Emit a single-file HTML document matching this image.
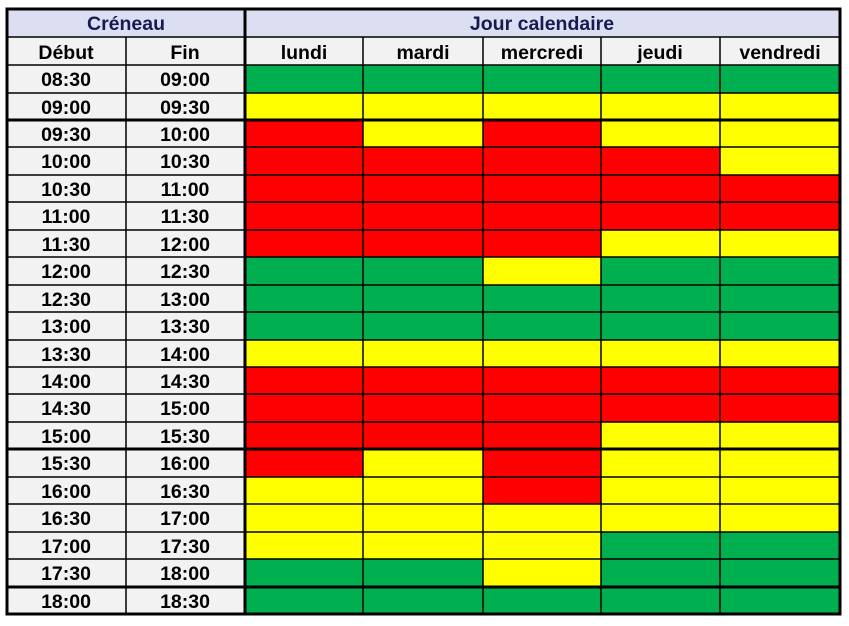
<!DOCTYPE html><html><head><meta charset="utf-8"><style>
body{margin:0;background:#fff}
svg text{font-family:"Liberation Sans",Arial,sans-serif;font-weight:bold;font-size:19.5px;text-anchor:middle;fill:#000}
</style></head><body>
<svg width="849" height="621" xmlns="http://www.w3.org/2000/svg">
<rect x="7" y="9" width="238" height="28" fill="#dcdff2"/>
<rect x="245" y="9" width="595" height="28" fill="#dcdff2"/>
<rect x="7" y="37" width="238" height="577" fill="#f2f2f2"/>
<rect x="245" y="37" width="595" height="28" fill="#f2f2f2"/>
<g id="cells"></g>
<g>
<text x="126" y="30" style="fill:#1a1a50">Créneau</text>
<text x="542" y="30" style="fill:#1a1a50">Jour calendaire</text>
<text x="66" y="59">Début</text><text x="185" y="59">Fin</text>
<text x="304" y="59">lundi</text><text x="423" y="59">mardi</text><text x="542" y="59">mercredi</text><text x="660" y="59">jeudi</text><text x="780" y="59">vendredi</text>
</g>
<g>
<text x="66" y="86">08:30</text><text x="185" y="86">09:00</text>
<text x="66" y="114">09:00</text><text x="185" y="114">09:30</text>
<text x="66" y="141">09:30</text><text x="185" y="141">10:00</text>
<text x="66" y="168">10:00</text><text x="185" y="168">10:30</text>
<text x="66" y="196">10:30</text><text x="185" y="196">11:00</text>
<text x="66" y="223">11:00</text><text x="185" y="223">11:30</text>
<text x="66" y="251">11:30</text><text x="185" y="251">12:00</text>
<text x="66" y="278">12:00</text><text x="185" y="278">12:30</text>
<text x="66" y="306">12:30</text><text x="185" y="306">13:00</text>
<text x="66" y="333">13:00</text><text x="185" y="333">13:30</text>
<text x="66" y="361">13:30</text><text x="185" y="361">14:00</text>
<text x="66" y="388">14:00</text><text x="185" y="388">14:30</text>
<text x="66" y="415">14:30</text><text x="185" y="415">15:00</text>
<text x="66" y="443">15:00</text><text x="185" y="443">15:30</text>
<text x="66" y="470">15:30</text><text x="185" y="470">16:00</text>
<text x="66" y="498">16:00</text><text x="185" y="498">16:30</text>
<text x="66" y="525">16:30</text><text x="185" y="525">17:00</text>
<text x="66" y="553">17:00</text><text x="185" y="553">17:30</text>
<text x="66" y="580">17:30</text><text x="185" y="580">18:00</text>
<text x="66" y="608">18:00</text><text x="185" y="608">18:30</text>
</g>
<g id="lines"></g>
</svg>
<script>
var ys=[65,93,120,147,175,202,230,257,285,312,340,367,394,422,449,477,504,532,559,587,614];
var rows=["GGGGG","YYYYY","RYRYY","RRRRY","RRRRR","RRRRR","RRRYY","GGYGG","GGGGG","GGGGG","YYYYY","RRRRR","RRRRR","RRRYY","RYRYY","YYRYY","YYYYY","YYYGG","GGYGG","GGGGG"];
var xs=[245,363,483,601,720,840],C={G:"#00b050",Y:"#ffff00",R:"#ff0000"};
var ns="http://www.w3.org/2000/svg",g=document.getElementById("cells"),L=document.getElementById("lines");
function el(p,t,a){var e=document.createElementNS(ns,t);for(var k in a)e.setAttribute(k,a[k]);p.appendChild(e);}
rows.forEach(function(r,i){for(var j=0;j<5;j++)el(g,"rect",{x:xs[j],y:ys[i],width:xs[j+1]-xs[j],height:ys[i+1]-ys[i],fill:C[r[j]]});});
function ln(x1,y1,x2,y2,w){el(L,"line",{x1:x1,y1:y1,x2:x2,y2:y2,stroke:"#000","stroke-width":w});}
ys.forEach(function(y,i){var w=(i==2||i==14||i==19)?3:1.5;ln(7,y,840,y,w);});
ln(7,37,840,37,1.5);
[126].forEach(function(x){ln(x,37,x,614,1.5)});
[363,483,601,720].forEach(function(x){ln(x,37,x,614,1.5)});
ln(245,9,245,614,3);
el(L,"rect",{x:7,y:9,width:833,height:605,fill:"none",stroke:"#000","stroke-width":3});
</script>
</body></html>
